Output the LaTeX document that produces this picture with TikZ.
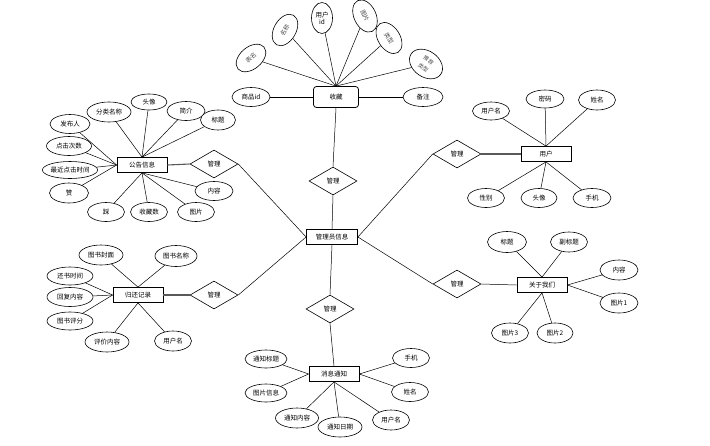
\documentclass[tikz,border=0pt]{standalone}
\usepackage{fontspec}
\newfontfamily\cjk{Noto Sans CJK SC}
\usetikzlibrary{shapes.geometric}
\tikzstyle{ent} = [rectangle, draw=black, line width=0.8pt, minimum width=50pt, minimum height=15pt, inner sep=1pt, fill=white, font=\cjk\fontsize{6.5}{7}\selectfont]
\tikzstyle{attr} = [ellipse, draw=black, line width=0.6pt, minimum width=38pt, minimum height=19pt, inner sep=0pt, fill=white, font=\cjk\fontsize{6.5}{7}\selectfont]
\tikzstyle{tilt} = [attr, minimum width=34pt, minimum height=22pt, text=black!70, font=\cjk\fontsize{6}{8}\selectfont]
\tikzstyle{rel} = [diamond, draw=black, line width=0.6pt, minimum width=48pt, minimum height=28pt, inner sep=0pt, fill=white, font=\cjk\fontsize{6.5}{7}\selectfont]
\tikzstyle{link} = [line width=0.5pt]
\tikzstyle{thk} = [line width=1.1pt, draw=black!65]

\begin{document}
\begin{tikzpicture}[x=1pt, y=-1pt]
	\useasboundingbox (0,0) rectangle (710,445);
	% centre
	\node (gly) [ent, minimum width=51pt] at (332,237) {管理员信息};
	\node (rtop) [rel] at (333,181) {管理};
	\node (rbot) [rel] at (330,309) {管理};
	\node (rlu) [rel] at (214,164) {管理};
	\node (rld) [rel] at (214,295) {管理};
	\node (rru) [rel] at (457,154) {管理};
	\node (rrd) [rel] at (457,284) {管理};
	% 收藏
	\node (sc) [ent, rounded corners=3pt, minimum width=45pt, minimum height=21pt] at (336,97) {收藏};
	\node (scspid) [attr] at (251,97) {商品id};
	\node (scbz) [attr, minimum width=40pt] at (423,97) {备注};
	\node (scbm) [tilt, rotate=40] at (251,58) {表名};
	\node (scmc) [tilt, rotate=60] at (285,30) {名称};
	\node (scyhid) [attr, minimum width=21pt, minimum height=31pt, align=center] at (322,18) {用户\\id};
	\node (sctp) [tilt, rotate=-65] at (365,16) {图片};
	\node (sclx) [tilt, rotate=-58] at (389,38) {类型};
	\node (sctj) [tilt, rotate=-35, minimum width=36pt, minimum height=26pt, align=center, font=\cjk\fontsize{5.5}{9}\selectfont] at (426,64) {推荐\\类型};
	% 公告信息
	\node (gg) [ent] at (142,165) {公告信息};
	\node (ggfbr) [attr, minimum width=40pt] at (70,124) {发布人};
	\node (ggdj) [attr, minimum width=45pt] at (69,146) {点击次数};
	\node (ggzj) [attr, minimum width=55pt, minimum height=17pt] at (70,170) {最近点击时间};
	\node (ggz) [attr, minimum width=39pt, minimum height=20pt] at (69,193) {赞};
	\node (ggfl) [attr, minimum width=44pt, minimum height=20pt] at (109,112) {分类名称};
	\node (ggtx) [attr, minimum width=36pt, minimum height=16pt] at (149,102) {头像};
	\node (ggjj) [attr] at (186,111) {简介};
	\node (ggbt) [attr, minimum width=35pt, minimum height=20pt] at (218,120) {标题};
	\node (ggnr) [attr] at (214,191) {内容};
	\node (ggtp) [attr, minimum width=37pt] at (196,212) {图片};
	\node (ggsc) [attr, minimum width=37pt] at (149,212) {收藏数};
	\node (ggc) [attr, minimum width=37pt] at (106,212) {踩};
	% 归还记录
	\node (gh) [ent] at (138,295) {归还记录};
	\node (ghfm) [attr, minimum width=44pt, minimum height=20pt] at (101,255) {图书封面};
	\node (ghmc) [attr, minimum width=42pt, minimum height=21pt] at (176,256) {图书名称};
	\node (ghsj) [attr, minimum width=46pt, minimum height=18pt] at (70,276) {还书时间};
	\node (ghhf) [attr, minimum width=46pt, minimum height=19pt] at (70,297) {回复内容};
	\node (ghpf) [attr, minimum width=46pt, minimum height=18pt] at (70,321) {图书评分};
	\node (ghpj) [attr, minimum width=44pt, minimum height=20pt] at (107,342) {评价内容};
	\node (ghyhm) [attr, minimum width=37pt, minimum height=20pt] at (173,341) {用户名};
	% 用户
	\node (yh) [ent] at (546,154) {用户};
	\node (yhyhm) [attr, minimum width=37pt, minimum height=18pt] at (491,111) {用户名};
	\node (yhmm) [attr, minimum height=18pt] at (545,99) {密码};
	\node (yhxm) [attr, minimum width=37pt, minimum height=20pt] at (597,100) {姓名};
	\node (yhxb) [attr, minimum width=37pt] at (486,198) {性别};
	\node (yhtx) [attr, minimum width=36pt] at (539,198) {头像};
	\node (yhsj) [attr] at (592,198) {手机};
	% 关于我们
	\node (gy) [ent] at (542,285) {关于我们};
	\node (gybt) [attr, minimum width=39pt, minimum height=21pt] at (507,242) {标题};
	\node (gyfbt) [attr, minimum width=37pt, minimum height=20pt] at (569,242) {副标题};
	\node (gynr) [attr, minimum height=20pt] at (619,270) {内容};
	\node (gytp1) [attr, minimum height=20pt] at (619,303) {图片1};
	\node (gytp3) [attr, minimum width=37pt, minimum height=20pt] at (510,333) {图片3};
	\node (gytp2) [attr, minimum width=36pt, minimum height=20pt] at (555,333) {图片2};
	% 消息通知
	\node (xx) [ent] at (334,374) {消息通知};
	\node (xxbt) [attr, minimum width=42pt, minimum height=18pt] at (266,359) {通知标题};
	\node (xxtp) [attr, minimum width=42pt, minimum height=18pt] at (266,393) {图片信息};
	\node (xxnr) [attr, minimum width=43pt, minimum height=20pt] at (297,418) {通知内容};
	\node (xxrq) [attr, minimum width=44pt, minimum height=20pt] at (340,427) {通知日期};
	\node (xxyhm) [attr, minimum width=37pt, minimum height=20pt] at (391,420) {用户名};
	\node (xxsj) [attr, minimum width=37pt] at (411,358) {手机};
	\node (xxxm) [attr, minimum width=37pt] at (410,392) {姓名};
	% relations
	\draw [link] (sc.south) -- (rtop.north);
	\draw [link] (rtop.south) -- (gly.north);
	\draw [link] (gly.south) -- (rbot.north);
	\draw [link] (rbot.south) -- (xx.north);
	\draw [link] (rlu.east) -- (gly.west);
	\draw [link] (rld.east) -- (gly.west);
	\draw [link] (gly.east) -- (rru.west);
	\draw [link] (gly.east) -- (rrd.west);
	\draw [thk] (gg.east) -- (rlu.west);
	\draw [thk] (gh.east) -- (rld.west);
	\draw [thk] (rru.east) -- (yh.west);
	\draw [link] (rrd.east) -- (gy.west);
	% attributes
	\draw [link] (scspid) -- (sc.west);
	\draw [link] (scbz) -- (sc.east);
	\foreach \a in {scbm, scmc, scyhid, sctp, sclx, sctj}
		\draw [link] (\a) -- (sc.north);
	\foreach \a in {ggfbr, ggdj, ggzj, ggz}
		\draw [link] (\a) -- (gg.west);
	\foreach \a in {ggfl, ggtx, ggjj, ggbt}
		\draw [link] (\a) -- (gg.north);
	\foreach \a in {ggnr, ggtp, ggsc, ggc}
		\draw [link] (\a) -- (gg.south);
	\foreach \a in {ghfm, ghmc}
		\draw [link] (\a) -- (gh.north);
	\foreach \a in {ghsj, ghhf, ghpf}
		\draw [link] (\a) -- (gh.west);
	\foreach \a in {ghpj, ghyhm}
		\draw [link] (\a) -- (gh.south);
	\foreach \a in {yhyhm, yhmm, yhxm}
		\draw [link] (\a) -- (yh.north);
	\foreach \a in {yhxb, yhtx, yhsj}
		\draw [link] (\a) -- (yh.south);
	\foreach \a in {gybt, gyfbt}
		\draw [link] (\a) -- (gy.north);
	\foreach \a in {gynr, gytp1}
		\draw [link] (\a) -- (gy.east);
	\foreach \a in {gytp3, gytp2}
		\draw [link] (\a) -- (gy.south);
	\foreach \a in {xxbt, xxtp}
		\draw [link] (\a) -- (xx.west);
	\foreach \a in {xxsj, xxxm}
		\draw [link] (\a) -- (xx.east);
	\foreach \a in {xxnr, xxrq, xxyhm}
		\draw [link] (\a) -- (xx.south);
\end{tikzpicture}
\end{document}
